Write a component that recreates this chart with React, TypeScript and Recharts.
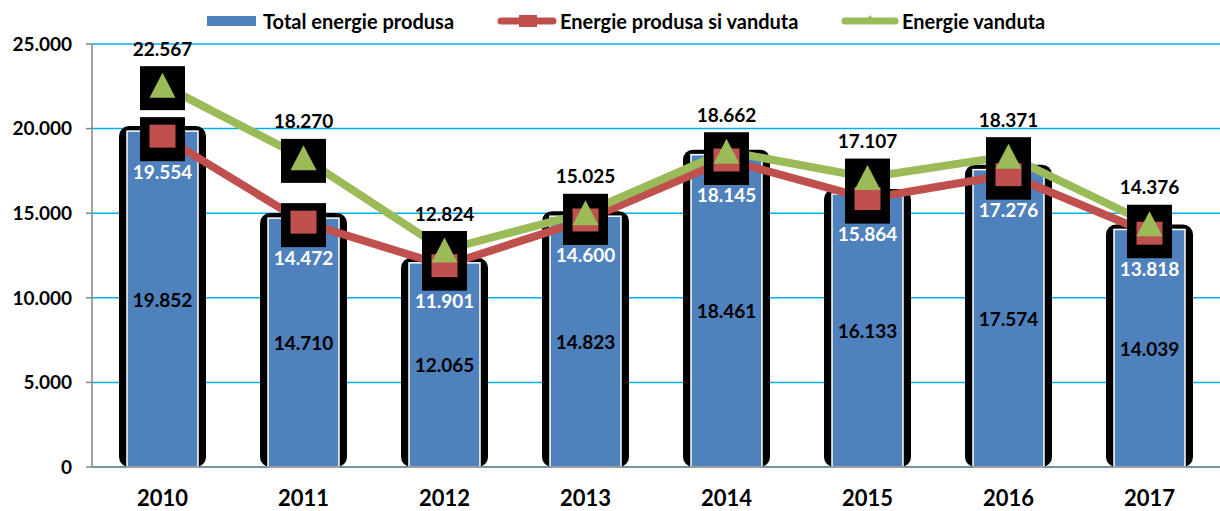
import React from "react";
import {
  ComposedChart,
  Bar,
  Line,
  XAxis,
  YAxis,
  CartesianGrid,
  LabelList,
} from "recharts";

const years = ["2010", "2011", "2012", "2013", "2014", "2015", "2016", "2017"];
const totalProduced = [19852, 14710, 12065, 14823, 18461, 16133, 17574, 14039];
const producedSold = [19554, 14472, 11901, 14600, 18145, 15864, 17276, 13818];
const sold = [22567, 18270, 12824, 15025, 18662, 17107, 18371, 14376];
const yTicks = [0, 5000, 10000, 15000, 20000, 25000];
const boundaryTicks = [0, 1, 2, 3, 4, 5, 6, 7, 8];

const seriesNames = {
  total: "Total energie produsa",
  prodSold: "Energie produsa si vanduta",
  sold: "Energie vanduta",
};

const BLUE = "#4F81BD";
const RED = "#C0504D";
const GREEN = "#9BBB59";
const GRID = "#00B0F0";
const AXIS = "#868686";
const FONT = "Lato, 'Open Sans', sans-serif";

const data = years.map((y, i) => ({
  year: y,
  total: totalProduced[i],
  prodSold: producedSold[i],
  sold: sold[i],
}));

const fmt = (v: number) => String(v).replace(/\B(?=(\d{3})+(?!\d))/g, ".");

const BarShape = (props: any) => {
  const { x, y, width, height } = props;
  if (height == null || height <= 0) return null;
  return (
    <g>
      <rect x={x - 8} y={y - 5} width={width + 16} height={height + 5} rx={10} ry={10} fill="#000" />
      <rect x={x} y={y} width={width} height={height} fill={BLUE} stroke="#fff" strokeWidth={1.5} />
    </g>
  );
};

const BlackBox = (props: any) => {
  const { cx, cy, index } = props;
  if (cx == null || cy == null) return <g key={index} />;
  return <rect key={index} x={cx - 22.5} y={cy - 19} width={45} height={44} fill="#000" />;
};

const SquareDot = (props: any) => {
  const { cx, cy, index } = props;
  if (cx == null || cy == null) return <g key={index} />;
  return <rect key={index} x={cx - 13} y={cy - 11.5} width={26} height={23} fill={RED} />;
};

const TriDot = (props: any) => {
  const { cx, cy, index } = props;
  if (cx == null || cy == null) return <g key={index} />;
  return (
    <polygon
      key={index}
      points={`${cx},${cy - 12.5} ${cx + 13},${cy + 12.5} ${cx - 13},${cy + 12.5}`}
      fill={GREEN}
    />
  );
};

const makeLabel = (dy: number, fill: string) => (props: any) => {
  const { x, y, value } = props;
  return (
    <text
      x={x}
      y={y + dy}
      textAnchor="middle"
      dominantBaseline="central"
      fontFamily={FONT}
      fontWeight={700}
      fontSize={19}
      fill={fill}
    >
      {fmt(value)}
    </text>
  );
};

const BarLabel = (props: any) => {
  const { x, y, width, height, value } = props;
  return (
    <text
      x={x + width / 2}
      y={y + height / 2}
      textAnchor="middle"
      dominantBaseline="central"
      fontFamily={FONT}
      fontWeight={700}
      fontSize={19}
      fill="#000"
    >
      {fmt(value)}
    </text>
  );
};

const legendText: React.CSSProperties = {
  fontFamily: FONT,
  fontWeight: 700,
  fontSize: 20,
  color: "#000",
  whiteSpace: "nowrap",
  lineHeight: "24px",
};

const Legend = () => (
  <div style={{ position: "absolute", left: 0, top: 0, width: 1220, height: 40, pointerEvents: "none" }}>
    <div style={{ position: "absolute", left: 207, top: 9, display: "flex", alignItems: "center" }}>
      <svg width={50} height={24}>
        <rect x={0} y={7} width={49} height={10} fill={BLUE} />
      </svg>
      <span style={{ ...legendText, marginLeft: 6 }}>{seriesNames.total}</span>
    </div>
    <div style={{ position: "absolute", left: 497, top: 9, display: "flex", alignItems: "center" }}>
      <svg width={62} height={24}>
        <line x1={4} y1={12} x2={56} y2={12} stroke={RED} strokeWidth={7} strokeLinecap="round" />
        <rect x={22} y={6} width={18} height={12} fill={RED} />
      </svg>
      <span style={{ ...legendText, marginLeft: 1 }}>{seriesNames.prodSold}</span>
    </div>
    <div style={{ position: "absolute", left: 841, top: 9, display: "flex", alignItems: "center" }}>
      <svg width={60} height={24}>
        <line x1={4} y1={12} x2={54} y2={12} stroke={GREEN} strokeWidth={7} strokeLinecap="round" />
        <polygon points="29,6 36,15 22,15" fill={GREEN} />
      </svg>
      <span style={{ ...legendText, marginLeft: 1 }}>{seriesNames.sold}</span>
    </div>
  </div>
);

export default function App() {
  return (
    <div style={{ position: "fixed", left: 0, top: 0, width: 1220, height: 511, background: "#fff" }}>
      <ComposedChart
        width={1220}
        height={511}
        data={data}
        margin={{ top: 44, right: 0, bottom: 0, left: 0 }}
        barCategoryGap={0}
      >
        <CartesianGrid vertical={false} stroke={GRID} strokeWidth={1.5} />
        <XAxis
          xAxisId="b"
          type="number"
          domain={[0, 8]}
          ticks={boundaryTicks}
          height={0}
          axisLine={false}
          tickLine={{ stroke: AXIS, strokeWidth: 1.5 }}
          tickSize={8}
          tick={() => <g />}
          allowDataOverflow
        />
        <XAxis
          xAxisId="cat"
          dataKey="year"
          height={44}
          axisLine={{ stroke: AXIS, strokeWidth: 1.5 }}
          tickLine={false}
          tickMargin={17}
          tick={{ fontFamily: FONT, fontWeight: 700, fontSize: 22, fill: "#000" }}
        />
        <YAxis
          width={92}
          domain={[0, 25000]}
          ticks={yTicks}
          interval={0}
          tickFormatter={fmt}
          axisLine={{ stroke: AXIS, strokeWidth: 1.5 }}
          tickLine={{ stroke: AXIS, strokeWidth: 1.5 }}
          tickSize={6}
          tickMargin={14}
          tick={{ fontFamily: FONT, fontWeight: 700, fontSize: 19, fill: "#000" }}
        />
        <Bar
          xAxisId="cat"
          dataKey="total"
          barSize={71}
          shape={<BarShape />}
          isAnimationActive={false}
          legendType="none"
        >
          <LabelList dataKey="total" content={<BarLabel />} />
        </Bar>
        <Line
          xAxisId="cat"
          dataKey="prodSold"
          stroke="none"
          strokeWidth={0}
          dot={BlackBox}
          activeDot={false}
          isAnimationActive={false}
          legendType="none"
        />
        <Line
          xAxisId="cat"
          dataKey="sold"
          stroke="none"
          strokeWidth={0}
          dot={BlackBox}
          activeDot={false}
          isAnimationActive={false}
          legendType="none"
        />
        <Line
          xAxisId="cat"
          dataKey="prodSold"
          stroke={RED}
          strokeWidth={8}
          dot={SquareDot}
          activeDot={false}
          isAnimationActive={false}
        >
          <LabelList dataKey="prodSold" content={makeLabel(35, "#fff")} />
        </Line>
        <Line
          xAxisId="cat"
          dataKey="sold"
          stroke={GREEN}
          strokeWidth={8}
          dot={TriDot}
          activeDot={false}
          isAnimationActive={false}
        >
          <LabelList dataKey="sold" content={makeLabel(-37, "#000")} />
        </Line>
      </ComposedChart>
      <Legend />
    </div>
  );
}
